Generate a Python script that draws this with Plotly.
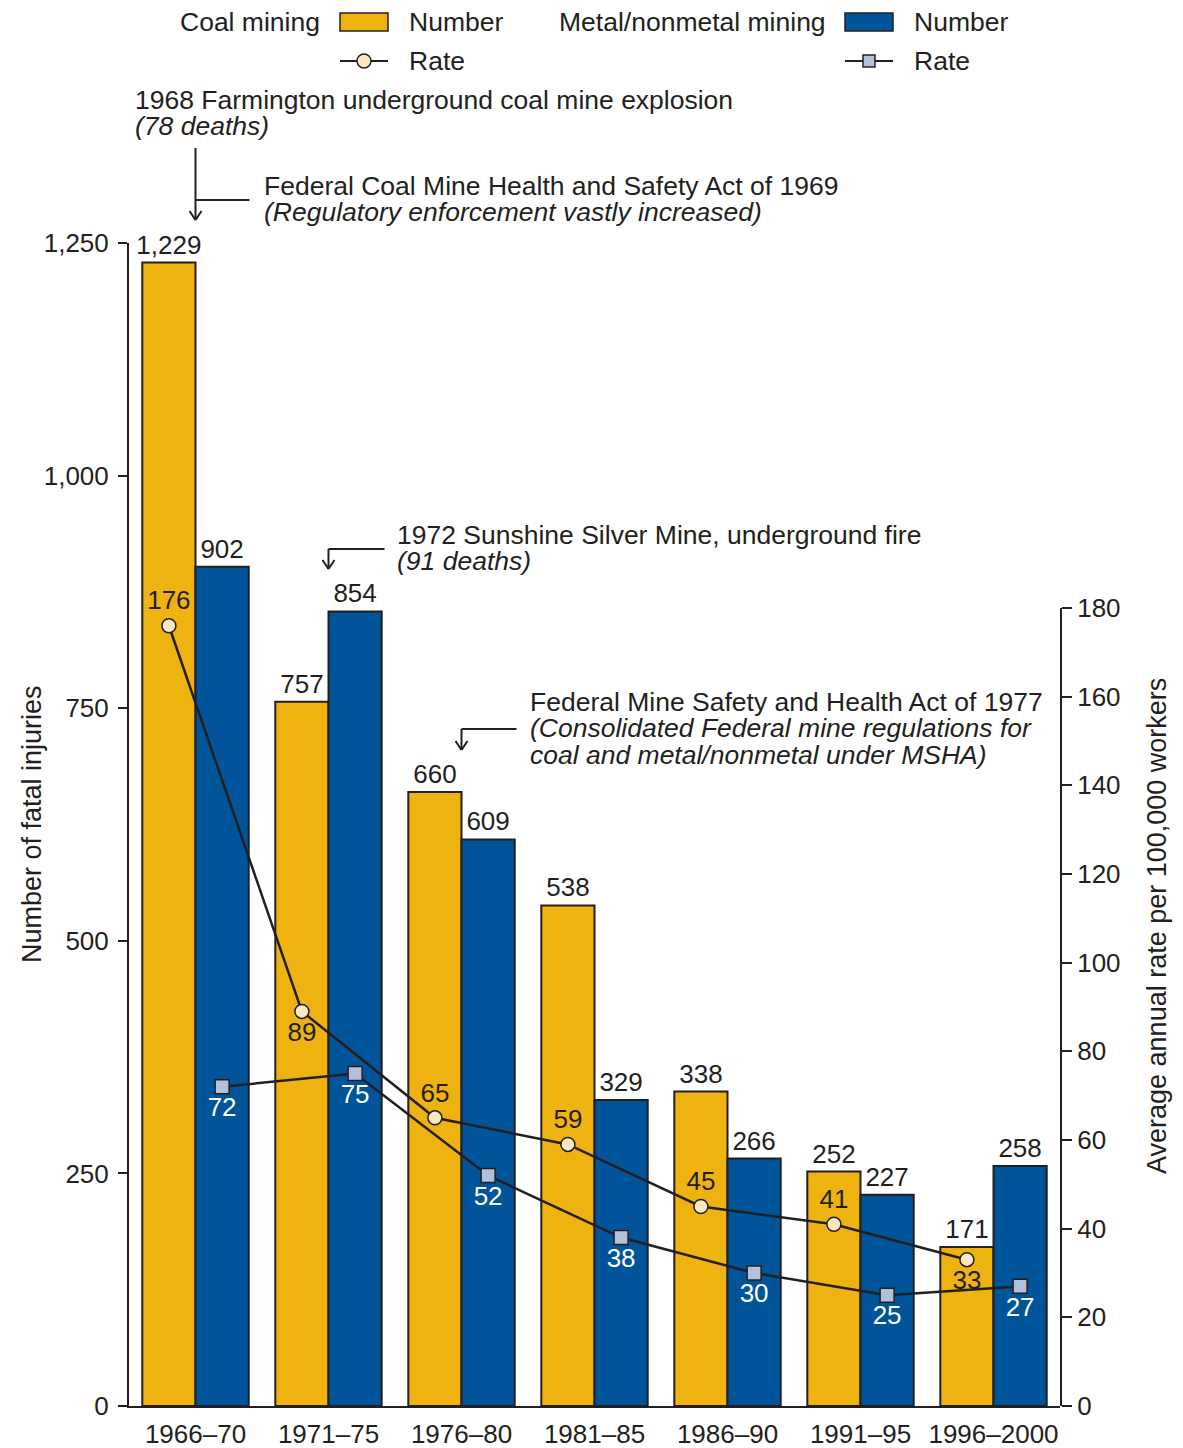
import plotly.graph_objects as go

# data
periods = ["1966–70", "1971–75", "1976–80", "1981–85", "1986–90", "1991–95", "1996–2000"]
coal_number = [1229, 757, 660, 538, 338, 252, 171]
metal_number = [902, 854, 609, 329, 266, 227, 258]
coal_rate = [176, 89, 65, 59, 45, 41, 33]
metal_rate = [72, 75, 52, 38, 30, 25, 27]
left_ticks = [0, 250, 500, 750, 1000, 1250]
right_ticks = [0, 20, 40, 60, 80, 100, 120, 140, 160, 180]

GOLD = "#EEB211"
BLUE = "#00559A"
INK = "#231F20"
CREAM = "#FCE8BE"
STEEL = "#B2C0DC"
FONT = "Liberation Sans, Arial, sans-serif"
FS = 26
FA = 26.5

# page puts the figure 8px in from the corner; positions below are reference pixels
OFF = 8
W, H = 1183 - OFF, 1448 - OFF
L, T = 129 - OFF, 243 - OFF
PW, PH = 931, 1163
R, B = W - L - PW, H - T - PH


def px(x):
    return (x - OFF - L) / PW


def py(y):
    return (T + PH - (y - OFF)) / PH


def dx(n):
    return n / (PW / len(periods))


idx = list(range(len(periods)))
coal_pos = ["top center", "bottom center", "top center", "top center",
            "top center", "top center", "bottom center"]

fig = go.Figure()

fig.add_trace(go.Bar(x=idx, y=coal_number, name="Coal number", marker=dict(color=GOLD, line=dict(color=INK, width=2)),
                     text=[f"{v:,}" for v in coal_number], textposition="outside", constraintext="none",
                     textfont=dict(size=FS, color=INK), cliponaxis=False, showlegend=False))
fig.add_trace(go.Bar(x=idx, y=metal_number, name="Metal number", marker=dict(color=BLUE, line=dict(color=INK, width=2)),
                     text=[f"{v:,}" for v in metal_number], textposition="outside", constraintext="none",
                     textfont=dict(size=FS, color=INK), cliponaxis=False, showlegend=False))

fig.add_trace(go.Scatter(x=[i - 0.2 for i in idx], y=coal_rate, yaxis="y2", mode="lines+markers+text",
                         line=dict(color=INK, width=2.5),
                         marker=dict(symbol="circle", size=14, color=CREAM, line=dict(color=INK, width=1.5)),
                         text=[str(v) for v in coal_rate], textposition=coal_pos,
                         textfont=dict(size=FS, color=INK), cliponaxis=False, showlegend=False))
fig.add_trace(go.Scatter(x=[i + 0.2 for i in idx], y=metal_rate, yaxis="y2", mode="lines+markers+text",
                         line=dict(color=INK, width=2.5),
                         marker=dict(symbol="square", size=14, color=STEEL, line=dict(color=INK, width=1.5)),
                         text=[str(v) for v in metal_rate], textposition="bottom center",
                         textfont=dict(size=FS, color="white"), cliponaxis=False, showlegend=False))

shapes = []
annotations = []


def line(x0, y0, x1, y1, xref="paper"):
    shapes.append(dict(type="line", xref=xref, yref="paper", x0=x0, y0=y0, x1=x1, y1=y1,
                       line=dict(color=INK, width=2)))


def text(x, y, s, anchor="left", size=FA):
    annotations.append(dict(xref="paper", yref="paper", x=px(x), y=py(y), text=s, showarrow=False,
                            xanchor=anchor, yanchor="middle", font=dict(size=size, color=INK, family=FONT)))


def arrow_head(xc, ytip):
    line(xc - dx(6), py(ytip - 9), xc, py(ytip), xref="x")
    line(xc + dx(6), py(ytip - 9), xc, py(ytip), xref="x")


# Farmington + 1969 act
line(0, py(148), 0, py(220), xref="x")
arrow_head(0, 220)
line(0, py(200), dx(54), py(200), xref="x")
text(133, 100, "1968 Farmington underground coal mine explosion")
text(133, 126, "<i>(78 deaths)</i>")
text(262, 186, "Federal Coal Mine Health and Safety Act of 1969")
text(262, 212, "<i>(Regulatory enforcement vastly increased)</i>")

# Sunshine
line(1, py(549), 1 + dx(56), py(549), xref="x")
line(1, py(549), 1, py(569), xref="x")
arrow_head(1, 569)
text(395, 535, "1972 Sunshine Silver Mine, underground fire")
text(395, 561, "<i>(91 deaths)</i>")

# 1977 act
line(2, py(729), 2 + dx(55), py(729), xref="x")
line(2, py(729), 2, py(750), xref="x")
arrow_head(2, 750)
text(528, 702, "Federal Mine Safety and Health Act of 1977")
text(528, 728, "<i>(Consolidated Federal mine regulations for</i>")
text(528, 755, "<i>coal and metal/nonmetal under MSHA)</i>")

# legend
for name, lab_right, box_x, lab_x, fill, sfill in [("Coal mining", 322, 340, 407, GOLD, CREAM),
                                                   ("Metal/nonmetal mining", 828, 845, 912, BLUE, STEEL)]:
    text(lab_right, 22, name, anchor="right")
    shapes.append(dict(type="rect", xref="paper", yref="paper", x0=px(box_x), x1=px(box_x + 48),
                       y0=py(31), y1=py(13), fillcolor=fill, line=dict(color=INK, width=1.5)))
    text(lab_x, 22, "Number")
    line(px(box_x), py(61), px(box_x + 48), py(61))
    r = 7 if fill == GOLD else 6
    shapes.append(dict(type="circle" if fill == GOLD else "rect", xref="paper", yref="paper",
                       x0=px(box_x + 24 - r), x1=px(box_x + 24 + r), y0=py(61 + r), y1=py(61 - r),
                       fillcolor=sfill, line=dict(color=INK, width=1.5)))
    text(lab_x, 61, "Rate")

# axis titles
annotations.append(dict(xref="paper", yref="paper", x=px(32), y=py(824), text="Number of fatal injuries",
                        textangle=-90, showarrow=False, xanchor="center", yanchor="middle",
                        font=dict(size=27, color=INK, family=FONT)))
annotations.append(dict(xref="paper", yref="paper", x=px(1157), y=py(926),
                        text="Average annual rate per 100,000 workers", textangle=-90, showarrow=False,
                        xanchor="center", yanchor="middle", font=dict(size=27, color=INK, family=FONT)))

fig.update_layout(
    width=W, height=H, autosize=False,
    margin=dict(l=L, r=R, t=T, b=B, autoexpand=False),
    barmode="group", bargap=0.2, bargroupgap=0,
    plot_bgcolor="rgba(0,0,0,0)", paper_bgcolor="white",
    font=dict(family=FONT, size=FS, color=INK),
    xaxis=dict(range=[-0.5, len(periods) - 0.5], tickvals=idx, ticktext=periods, showgrid=False,
               zeroline=False, showline=True, linecolor=INK, linewidth=2, ticks="", automargin=False,
               ticklabelstandoff=4, tickfont=dict(size=FS, color=INK)),
    yaxis=dict(range=[0, 1250], tickvals=left_ticks, tickformat=",d", showgrid=False, zeroline=False,
               showline=True, linecolor=INK, linewidth=2, ticks="outside", ticklen=9, tickwidth=2,
               tickcolor=INK, ticklabelstandoff=4, automargin=False, tickfont=dict(size=FS, color=INK)),
    yaxis2=dict(range=[0, 180], domain=[0, 798 / PH],
                anchor="x", side="right", tickvals=right_ticks, showgrid=False, zeroline=False,
                showline=True, linecolor=INK, linewidth=2, ticks="outside", ticklen=10, tickwidth=2,
                tickcolor=INK, automargin=False, tickfont=dict(size=FS, color=INK)),
    shapes=shapes,
    annotations=annotations,
)

fig.write_html("out.html")
